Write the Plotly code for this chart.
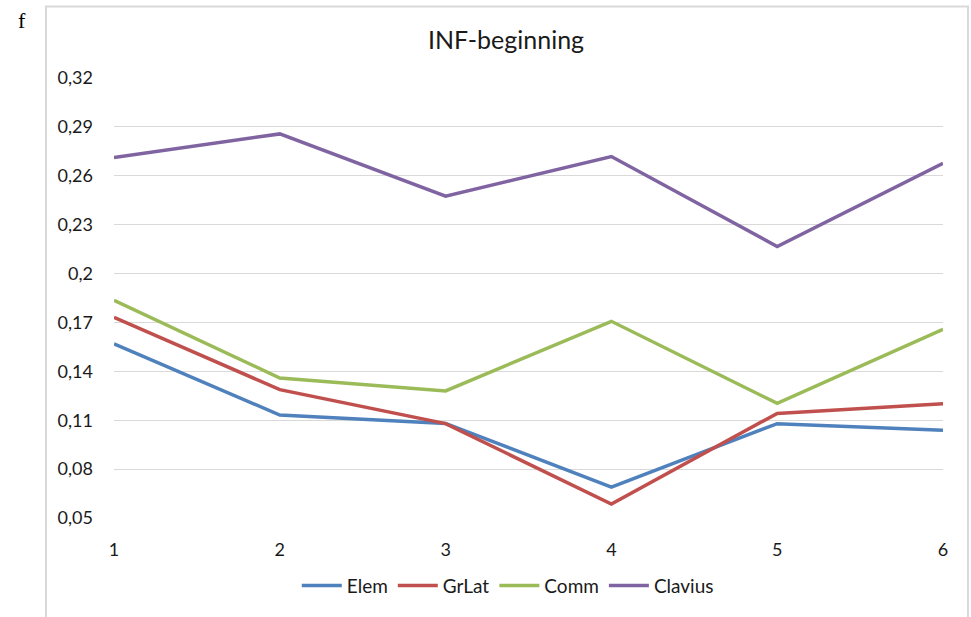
import plotly.graph_objects as go

x_vals = [1, 2, 3, 4, 5, 6]
elem = [0.1568, 0.1132, 0.1080, 0.0689, 0.1079, 0.1038]
grlat = [0.1731, 0.1288, 0.1079, 0.0585, 0.1142, 0.1201]
comm = [0.1835, 0.1359, 0.1280, 0.1707, 0.1203, 0.1658]
clavius = [0.2712, 0.2857, 0.2475, 0.2718, 0.2166, 0.2676]

series_names = ["Elem", "GrLat", "Comm", "Clavius"]
series_colors = ["#4F81BD", "#C0504D", "#9BBB59", "#8064A2"]

y_tickvals = [0.05, 0.08, 0.11, 0.14, 0.17, 0.2, 0.23, 0.26, 0.29, 0.32]
y_ticktext = ["0,05", "0,08", "0,11", "0,14", "0,17", "0,2", "0,23", "0,26", "0,29", "0,32"]

FONT = "Lato, Calibri, Liberation Sans, sans-serif"

fig = go.Figure()
for name, vals, col in zip(series_names, [elem, grlat, comm, clavius], series_colors):
    fig.add_trace(go.Scatter(x=x_vals, y=vals, mode="lines", name=name,
                             line=dict(color=col, width=3.5)))

fig.update_layout(
    width=971, height=617,
    margin=dict(l=114, r=28, t=78, b=96),
    paper_bgcolor="white", plot_bgcolor="white",
    font=dict(family=FONT, size=18, color="#1a1a1a"),
    title=dict(text="INF-beginning", x=(506 / 971), xanchor="center",
               y=1 - 40 / 617, yanchor="middle", yref="container",
               font=dict(family=FONT, size=25, color="#1a1a1a")),
    showlegend=True,
    legend=dict(orientation="h", x=0.475, xanchor="center", y=-0.1535, yanchor="middle",
                font=dict(family=FONT, size=19, color="#1a1a1a"),
                itemwidth=40, tracegroupgap=0),
    xaxis=dict(range=[1, 6], tickvals=x_vals, ticktext=[str(v) for v in x_vals],
               showgrid=False, zeroline=False, showline=False, ticks="",
               ticklabelstandoff=19, tickfont=dict(size=18, color="#1a1a1a")),
    yaxis=dict(range=[0.05, 0.32], tickvals=y_tickvals, ticktext=y_ticktext,
               showgrid=True, gridcolor="#d9d9d9", gridwidth=1, zeroline=False,
               showline=False, ticks="", ticklabelstandoff=20,
               tickfont=dict(size=18, color="#1a1a1a")),
    shapes=[
        dict(type="rect", xref="paper", yref="paper",
             x0=(46 - 114) / 829, x1=(968 - 114) / 829,
             y0=-0.3, y1=(521 - 6) / 443,
             line=dict(color="#d9d9d9", width=2), fillcolor="rgba(0,0,0,0)", layer="below"),
    ],
    annotations=[
        dict(text="f", xref="paper", yref="paper", x=(22 - 114) / 829, y=(521 - 20) / 443,
             xanchor="center", yanchor="middle", showarrow=False,
             font=dict(family="Liberation Serif, DejaVu Serif, serif", size=22, color="#000000")),
    ],
)

fig.write_html("out.html", config={"displayModeBar": False},
               post_script="document.body.style.margin='0';document.body.style.padding='0';")
